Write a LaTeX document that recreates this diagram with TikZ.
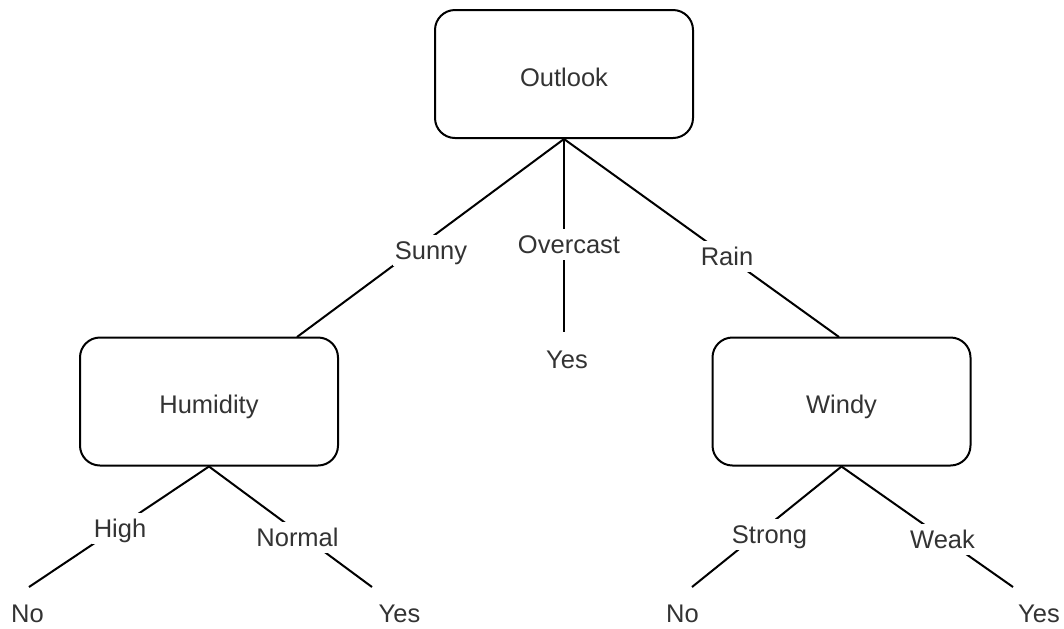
\documentclass[tikz,border=0pt]{standalone}
\usepackage{fontspec}
\setmainfont{Liberation Sans}
\begin{document}
\begin{tikzpicture}[x=0.5pt,y=-0.5pt,
  every node/.style={font=\fontsize{12.75}{15}\selectfont, text=black!80},
  box/.style={draw=black, line width=1pt, rounded corners=10pt, minimum width=129pt, minimum height=64pt, inner sep=0pt, text height=12pt, text depth=0pt},
  lbl/.style={fill=white, inner xsep=1pt, inner ysep=1.5pt, text height=10.5pt, text depth=2pt, anchor=base},
  leaf/.style={inner sep=0pt, anchor=base},
  edge/.style={draw=black, line width=1pt}]
\useasboundingbox (0,0) rectangle (1064,628);
% decision boxes
\node[box] (out) at (564,74) {Outlook};
\node[box] (hum) at (209,401.5) {Humidity};
\node[box] (win) at (841.5,401.5) {Windy};
% leaves
\node[leaf] (yes0) at (567,368) {Yes};
\node[leaf] (noA) at (27.5,622) {No};
\node[leaf] (yesA) at (399.5,622) {Yes};
\node[leaf] (noB) at (682.5,622) {No};
\node[leaf] (yesB) at (1039,622) {Yes};
% connector ends
\coordinate (humIn) at (297,337);
\coordinate (winIn) at (839,337);
\coordinate (yes0In) at (564,332);
\coordinate (noAIn) at (29,587);
\coordinate (yesAIn) at (372,587);
\coordinate (noBIn) at (692,587);
\coordinate (yesBIn) at (1013,587);
% connectors
\draw[edge] (out.south) -- (humIn);
\draw[edge] (out.south) -- (yes0In);
\draw[edge] (out.south) -- (winIn);
\draw[edge] (hum.south) -- (noAIn);
\draw[edge] (hum.south) -- (yesAIn);
\draw[edge] (win.south) -- (noBIn);
\draw[edge] (win.south) -- (yesBIn);
% edge labels
\node[lbl] (lsunny) at (431,259) {Sunny};
\node[lbl] (lover) at (569,253) {Overcast};
\node[lbl] (lrain) at (727,265) {Rain};
\node[lbl] (lhigh) at (120,537) {High};
\node[lbl] (lnormal) at (297.5,546) {Normal};
\node[lbl] (lstrong) at (769.5,543) {Strong};
\node[lbl] (lweak) at (942.5,548) {Weak};
\end{tikzpicture}
\end{document}
